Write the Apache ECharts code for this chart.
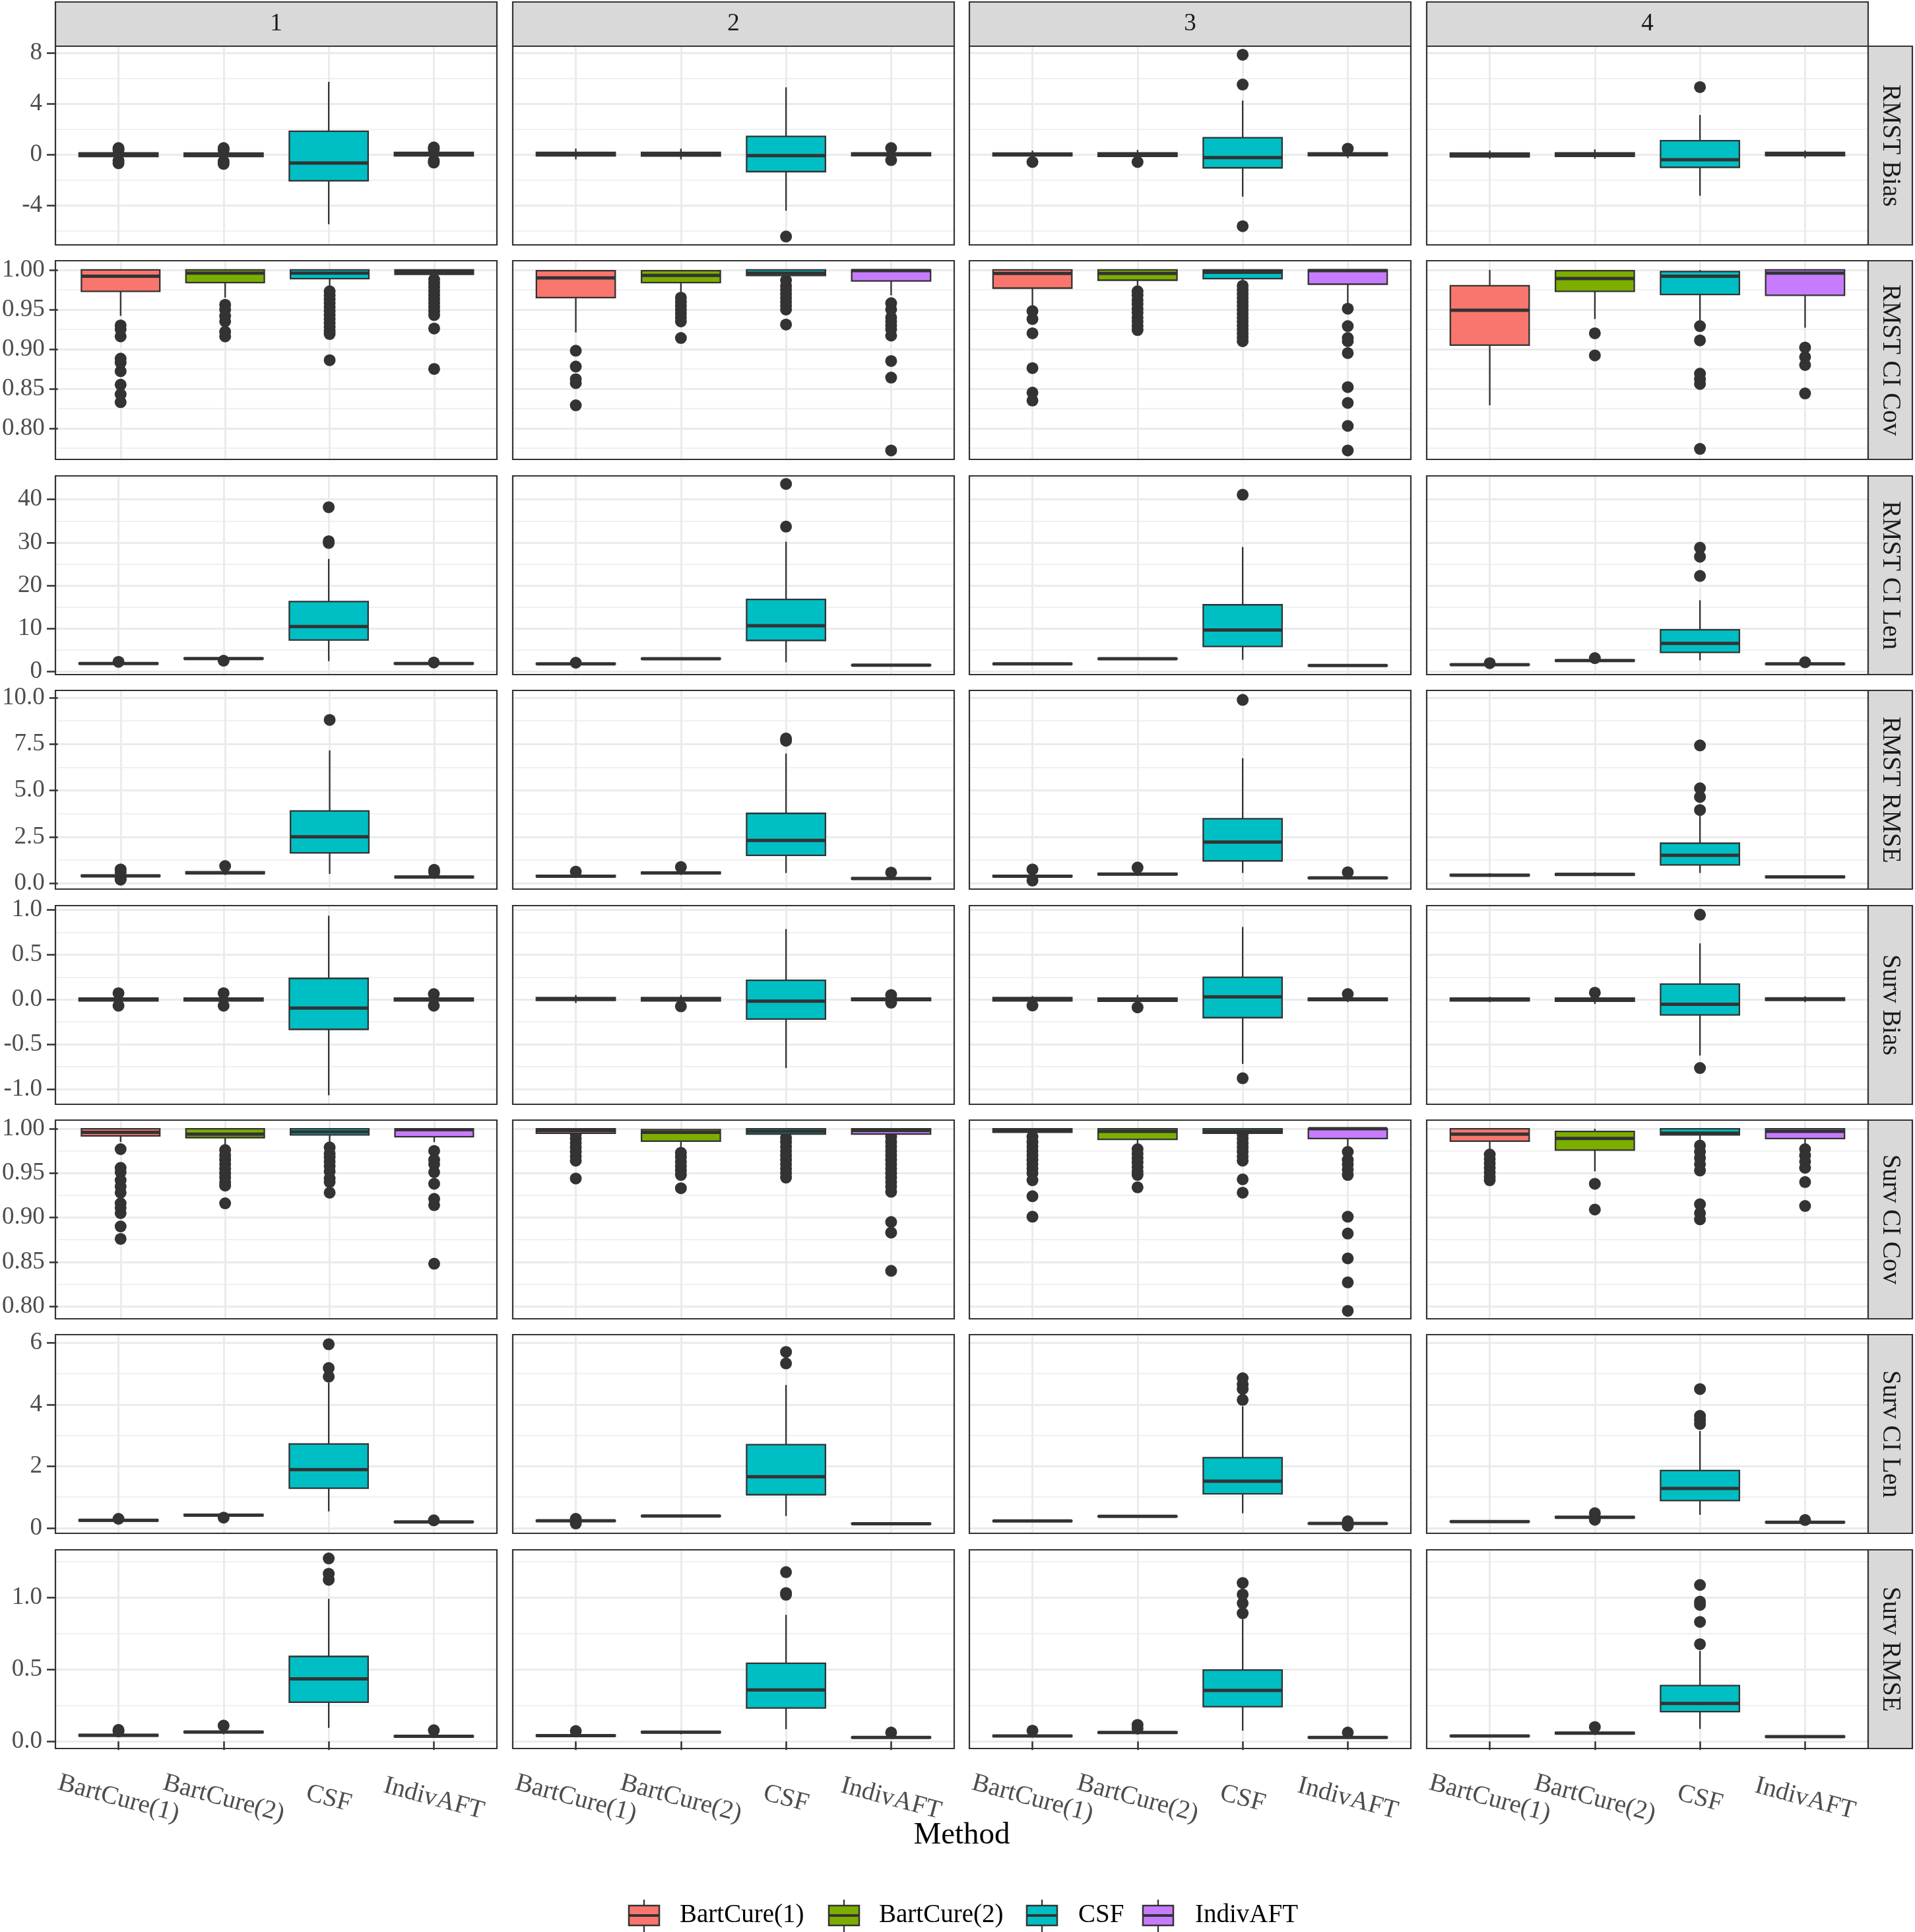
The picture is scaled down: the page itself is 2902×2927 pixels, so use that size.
<!DOCTYPE html>
<html>
<head>
<meta charset="utf-8">
<script src="https://cdn.jsdelivr.net/npm/echarts@6/dist/echarts.min.js"></script>
<style>
  html, body { margin: 0; padding: 0; background: #fff; }
  #chart { width: 2902px; height: 2927px; }
</style>
</head>
<body>
<div id="chart"></div>
<script>
const methods = ["BartCure(1)", "BartCure(2)", "CSF", "IndivAFT"];
const methodColors = ["#F8766D", "#7CAE00", "#00BFC4", "#C77CFF"];
const columns = ["1", "2", "3", "4"];
const metrics = ["RMST Bias", "RMST CI Cov", "RMST CI Len", "RMST RMSE",
                 "Surv Bias", "Surv CI Cov", "Surv CI Len", "Surv RMSE"];

// boxes: [column][method] = [lower whisker, Q1, median, Q3, upper whisker]
// outliers: [column][method] = [values...]
const rmstBiasBoxes = [
  [[-0.35, -0.17, -0.02, 0.12, 0.3], [-0.35, -0.17, -0.03, 0.1, 0.28], [-5.5, -2.08, -0.68, 1.82, 5.71], [-0.3, -0.12, 0.02, 0.15, 0.35]],
  [[-0.4, -0.12, 0.03, 0.15, 0.45], [-0.4, -0.13, 0.02, 0.15, 0.45], [-4.44, -1.36, -0.1, 1.42, 5.28], [-0.25, -0.1, 0.02, 0.12, 0.3]],
  [[-0.35, -0.12, 0.0, 0.1, 0.3], [-0.3, -0.15, 0.0, 0.12, 0.35], [-3.33, -1.06, -0.25, 1.31, 4.24], [-0.3, -0.1, 0.02, 0.12, 0.25]],
  [[-0.35, -0.2, -0.05, 0.1, 0.3], [-0.35, -0.15, 0.0, 0.12, 0.4], [-3.26, -1.02, -0.42, 1.08, 3.1], [-0.3, -0.1, 0.02, 0.15, 0.3]]
];
const rmstBiasOutliers = [
  [[0.5, 0.35, -0.5, -0.7], [0.5, 0.35, -0.55, -0.75], [], [0.55, 0.4, -0.5, -0.65]],
  [[], [], [-6.47], [0.5, -0.45]],
  [[-0.6], [-0.6], [7.85, 5.5, -5.66], [0.45]],
  [[], [], [5.3], []]
];

const rmstCovBoxes = [
  [[0.942, 0.973, 0.992, 1.0, 1.0], [0.965, 0.984, 0.996, 1.0, 1.0], [0.978, 0.989, 0.996, 1.0, 1.0], [0.99, 0.9945, 0.997, 1.0, 1.0]],
  [[0.921, 0.965, 0.99, 0.999, 1.0], [0.968, 0.984, 0.993, 0.999, 1.0], [0.99, 0.993, 0.996, 1.0, 1.0], [0.968, 0.986, 0.999, 1.0, 1.0]],
  [[0.955, 0.977, 0.9956, 1.0, 1.0], [0.977, 0.987, 0.9956, 1.0, 1.0], [0.984, 0.989, 0.997, 1.0, 1.0], [0.958, 0.982, 0.999, 1.0, 1.0]],
  [[0.829, 0.905, 0.949, 0.98, 1.0], [0.938, 0.973, 0.989, 0.999, 1.0], [0.936, 0.969, 0.992, 0.998, 1.0], [0.927, 0.968, 0.996, 1.0, 1.0]]
];
const rmstCovOutliers = [
  [[0.93, 0.925, 0.916, 0.888, 0.883, 0.872, 0.855, 0.843, 0.833],
   [0.956, 0.95, 0.942, 0.935, 0.922, 0.916],
   [0.973, 0.968, 0.963, 0.958, 0.953, 0.948, 0.943, 0.938, 0.933, 0.928, 0.923, 0.919, 0.886],
   [0.988, 0.983, 0.978, 0.973, 0.968, 0.963, 0.958, 0.953, 0.948, 0.943, 0.926, 0.875]],
  [[0.898, 0.878, 0.862, 0.857, 0.829],
   [0.965, 0.96, 0.955, 0.95, 0.945, 0.94, 0.935, 0.914],
   [0.987, 0.98, 0.975, 0.97, 0.965, 0.96, 0.955, 0.95, 0.931],
   [0.958, 0.95, 0.94, 0.935, 0.93, 0.925, 0.917, 0.885, 0.864, 0.772]],
  [[0.948, 0.938, 0.92, 0.876, 0.845, 0.835],
   [0.973, 0.968, 0.962, 0.957, 0.951, 0.946, 0.94, 0.935, 0.929, 0.924],
   [0.98, 0.975, 0.97, 0.965, 0.96, 0.955, 0.95, 0.945, 0.94, 0.935, 0.93, 0.925, 0.92, 0.915, 0.91],
   [0.951, 0.929, 0.914, 0.91, 0.895, 0.852, 0.832, 0.803, 0.772]],
  [[], [0.92, 0.892], [0.929, 0.911, 0.869, 0.862, 0.856, 0.774], [0.902, 0.89, 0.88, 0.844]]
];

const rmstLenBoxes = [
  [[1.6, 1.8, 1.9, 2.0, 2.1], [2.8, 3.0, 3.07, 3.15, 3.3], [2.45, 7.36, 10.48, 16.3, 26.2], [1.6, 1.8, 1.9, 2.0, 2.05]],
  [[1.6, 1.75, 1.83, 1.92, 2.0], [2.85, 2.95, 3.03, 3.1, 3.2], [2.2, 7.27, 10.7, 16.8, 30.2], [1.4, 1.47, 1.52, 1.57, 1.65]],
  [[1.65, 1.75, 1.83, 1.9, 2.0], [2.85, 2.95, 3.0, 3.08, 3.2], [2.78, 5.88, 9.67, 15.55, 28.95], [1.3, 1.4, 1.45, 1.5, 1.6]],
  [[1.45, 1.57, 1.64, 1.72, 1.85], [2.3, 2.5, 2.6, 2.7, 2.9], [2.65, 4.49, 6.57, 9.73, 16.6], [1.6, 1.75, 1.83, 1.9, 2.0]]
];
const rmstLenOutliers = [
  [[2.3], [2.56], [38.2, 30.3, 29.9], [2.15]],
  [[2.1], [], [43.6, 33.7], []],
  [[], [], [41.1], []],
  [[2.0], [3.16], [28.8, 26.7, 22.25], [2.2]]
];

const rmstRmseBoxes = [
  [[0.3, 0.37, 0.4, 0.44, 0.55], [0.45, 0.52, 0.57, 0.62, 0.7], [0.51, 1.64, 2.51, 3.9, 7.16], [0.25, 0.3, 0.34, 0.38, 0.45]],
  [[0.3, 0.35, 0.38, 0.42, 0.5], [0.45, 0.52, 0.56, 0.6, 0.7], [0.56, 1.51, 2.31, 3.77, 6.99], [0.2, 0.23, 0.26, 0.3, 0.35]],
  [[0.3, 0.35, 0.38, 0.42, 0.5], [0.4, 0.46, 0.5, 0.54, 0.6], [0.56, 1.21, 2.22, 3.48, 6.74], [0.22, 0.26, 0.29, 0.32, 0.38]],
  [[0.35, 0.41, 0.44, 0.48, 0.55], [0.38, 0.44, 0.48, 0.52, 0.6], [0.56, 0.99, 1.51, 2.16, 3.63], [0.28, 0.32, 0.35, 0.38, 0.42]]
];
const rmstRmseOutliers = [
  [[0.75, 0.6, 0.25, 0.2], [0.93], [8.8], [0.73, 0.6]],
  [[0.63], [0.88], [7.68, 7.8], [0.58]],
  [[0.75, 0.15], [0.85], [9.88], [0.6]],
  [[], [], [7.43, 5.12, 4.65, 3.95], []]
];

const survBiasBoxes = [
  [[-0.04, -0.015, 0.0, 0.015, 0.04], [-0.04, -0.015, 0.0, 0.015, 0.04], [-1.07, -0.334, -0.096, 0.236, 0.936], [-0.04, -0.015, 0.0, 0.015, 0.04]],
  [[-0.04, -0.01, 0.006, 0.02, 0.05], [-0.05, -0.015, 0.005, 0.02, 0.05], [-0.766, -0.218, -0.018, 0.215, 0.787], [-0.03, -0.012, 0.004, 0.015, 0.04]],
  [[-0.04, -0.015, 0.003, 0.02, 0.04], [-0.05, -0.02, 0.0, 0.015, 0.05], [-0.72, -0.203, 0.03, 0.248, 0.81], [-0.03, -0.012, 0.003, 0.015, 0.03]],
  [[-0.03, -0.015, 0.0, 0.015, 0.03], [-0.05, -0.02, -0.005, 0.015, 0.04], [-0.626, -0.172, -0.054, 0.172, 0.627], [-0.03, -0.01, 0.005, 0.018, 0.035]]
];
const survBiasOutliers = [
  [[0.07, -0.07], [0.07, -0.07], [], [0.06, -0.07]],
  [[], [-0.076], [], [0.05, -0.036]],
  [[-0.067], [-0.088], [-0.88], [0.06]],
  [[], [0.076], [0.947, -0.766], []]
];

const survCovBoxes = [
  [[0.985, 0.992, 0.996, 1.0, 1.0], [0.98, 0.99, 0.994, 1.0, 1.0], [0.985, 0.993, 0.9965, 1.0, 1.0], [0.985, 0.991, 0.999, 1.0, 1.0]],
  [[0.995, 0.995, 0.998, 1.0, 1.0], [0.975, 0.986, 0.996, 0.999, 1.0], [0.994, 0.994, 0.997, 1.0, 1.0], [0.994, 0.994, 0.998, 1.0, 1.0]],
  [[0.996, 0.996, 0.998, 1.0, 1.0], [0.98, 0.988, 0.997, 1.0, 1.0], [0.995, 0.995, 0.997, 1.0, 1.0], [0.98, 0.989, 1.0, 1.0, 1.0]],
  [[0.974, 0.986, 0.994, 1.0, 1.0], [0.952, 0.976, 0.989, 0.997, 1.0], [0.985, 0.993, 0.995, 1.0, 1.0], [0.979, 0.989, 0.997, 1.0, 1.0]]
];
const survCovOutliers = [
  [[0.977, 0.956, 0.951, 0.942, 0.935, 0.928, 0.916, 0.911, 0.905, 0.89, 0.876],
   [0.976, 0.97, 0.965, 0.96, 0.955, 0.95, 0.945, 0.94, 0.936, 0.916],
   [0.979, 0.972, 0.968, 0.963, 0.958, 0.952, 0.944, 0.94, 0.928],
   [0.975, 0.965, 0.96, 0.951, 0.938, 0.921, 0.914, 0.848]],
  [[0.994, 0.989, 0.984, 0.979, 0.974, 0.969, 0.964, 0.944],
   [0.973, 0.968, 0.963, 0.958, 0.953, 0.948, 0.933],
   [0.99, 0.985, 0.98, 0.975, 0.97, 0.965, 0.96, 0.955, 0.95, 0.945],
   [0.991, 0.985, 0.98, 0.975, 0.97, 0.965, 0.96, 0.955, 0.95, 0.945, 0.94, 0.935, 0.929, 0.895, 0.883, 0.84]],
  [[0.991, 0.985, 0.98, 0.975, 0.97, 0.965, 0.96, 0.955, 0.95, 0.942, 0.924, 0.901],
   [0.977, 0.972, 0.967, 0.962, 0.957, 0.952, 0.948, 0.934],
   [0.994, 0.989, 0.984, 0.979, 0.974, 0.969, 0.964, 0.943, 0.928],
   [0.974, 0.965, 0.96, 0.954, 0.948, 0.901, 0.882, 0.854, 0.827, 0.795]],
  [[0.971, 0.966, 0.961, 0.956, 0.951, 0.946, 0.942],
   [0.938, 0.909],
   [0.981, 0.974, 0.967, 0.96, 0.953, 0.915, 0.905, 0.898],
   [0.977, 0.97, 0.963, 0.956, 0.94, 0.913]]
];

const survLenBoxes = [
  [[0.2, 0.23, 0.25, 0.27, 0.29], [0.38, 0.4, 0.42, 0.44, 0.46], [0.54, 1.29, 1.89, 2.72, 4.7], [0.17, 0.19, 0.2, 0.21, 0.23]],
  [[0.2, 0.22, 0.235, 0.25, 0.27], [0.36, 0.38, 0.39, 0.4, 0.42], [0.39, 1.08, 1.66, 2.7, 4.63], [0.12, 0.13, 0.14, 0.15, 0.16]],
  [[0.2, 0.22, 0.23, 0.24, 0.26], [0.35, 0.37, 0.38, 0.39, 0.41], [0.48, 1.11, 1.52, 2.28, 3.94], [0.13, 0.14, 0.15, 0.16, 0.17]],
  [[0.19, 0.2, 0.21, 0.22, 0.23], [0.3, 0.33, 0.35, 0.37, 0.4], [0.43, 0.89, 1.28, 1.86, 3.14], [0.17, 0.18, 0.19, 0.2, 0.22]]
];
const survLenOutliers = [
  [[0.3], [0.34], [5.95, 5.18, 4.9], [0.25]],
  [[0.3, 0.15], [], [5.7, 5.33], []],
  [[], [], [4.85, 4.65, 4.5, 4.15], [0.22, 0.08]],
  [[], [0.48, 0.27], [4.5, 3.63, 3.5, 3.37], [0.26]]
];

const survRmseBoxes = [
  [[0.03, 0.038, 0.043, 0.048, 0.055], [0.05, 0.06, 0.065, 0.07, 0.08], [0.094, 0.272, 0.434, 0.59, 0.99], [0.025, 0.032, 0.036, 0.04, 0.05]],
  [[0.03, 0.036, 0.04, 0.044, 0.05], [0.05, 0.06, 0.064, 0.068, 0.075], [0.085, 0.232, 0.358, 0.543, 0.879], [0.02, 0.025, 0.028, 0.031, 0.035]],
  [[0.028, 0.034, 0.038, 0.042, 0.05], [0.05, 0.058, 0.062, 0.066, 0.075], [0.075, 0.241, 0.354, 0.496, 0.848], [0.02, 0.025, 0.028, 0.031, 0.036]],
  [[0.03, 0.035, 0.038, 0.041, 0.045], [0.045, 0.053, 0.058, 0.063, 0.07], [0.087, 0.207, 0.264, 0.388, 0.628], [0.025, 0.03, 0.034, 0.037, 0.04]]
];
const survRmseOutliers = [
  [[0.08, 0.07], [0.11], [1.27, 1.164, 1.122], [0.078]],
  [[0.072], [], [1.175, 1.03, 1.018], [0.062]],
  [[0.075], [0.115, 0.09], [1.1, 1.02, 0.96, 0.89], [0.062]],
  [[], [0.1], [1.086, 0.97, 0.948, 0.83, 0.675], []]
];

// y tick labels per row
const rmstBiasTicks = ["-4", "0", "4", "8"];
const rmstCovTicks = ["0.80", "0.85", "0.90", "0.95", "1.00"];
const rmstLenTicks = ["0", "10", "20", "30", "40"];
const rmstRmseTicks = ["0.0", "2.5", "5.0", "7.5", "10.0"];
const survBiasTicks = ["-1.0", "-0.5", "0.0", "0.5", "1.0"];
const survCovTicks = ["0.80", "0.85", "0.90", "0.95", "1.00"];
const survLenTicks = ["0", "2", "4", "6"];
const survRmseTicks = ["0.0", "0.5", "1.0"];

// y axis limits per row (ggplot default expansion)
const yLimits = [[-7.13, 8.52], [0.7607, 1.0116], [-0.66, 45.47], [-0.31, 10.39],
                 [-1.171, 1.049], [0.786, 1.0097], [-0.17, 6.26], [-0.049, 1.33]];

const rows = [
  { boxes: rmstBiasBoxes, outliers: rmstBiasOutliers, ticks: rmstBiasTicks },
  { boxes: rmstCovBoxes, outliers: rmstCovOutliers, ticks: rmstCovTicks },
  { boxes: rmstLenBoxes, outliers: rmstLenOutliers, ticks: rmstLenTicks },
  { boxes: rmstRmseBoxes, outliers: rmstRmseOutliers, ticks: rmstRmseTicks },
  { boxes: survBiasBoxes, outliers: survBiasOutliers, ticks: survBiasTicks },
  { boxes: survCovBoxes, outliers: survCovOutliers, ticks: survCovTicks },
  { boxes: survLenBoxes, outliers: survLenOutliers, ticks: survLenTicks },
  { boxes: survRmseBoxes, outliers: survRmseOutliers, ticks: survRmseTicks }
];

const FONT = "Liberation Serif";
const DARK = "#333333";
const GRID_COLOR = "#EBEBEB";
const colLeft = [84, 777, 1469, 2162];
const panelW = 669, panelH = 301, rowTop0 = 70, rowStep = 325.4;
const stripTop = 3, stripSize = 67, stripRight = 2831;

const chart = echarts.init(document.getElementById("chart"));

const grids = [], xAxes = [], yAxes = [], series = [], graphics = [];

function renderBox(params, api) {
  const x = api.value(0);
  const color = methodColors[api.value(6)];
  const half = api.size([0.75, 0])[0] / 2;
  const pLow = api.coord([x, api.value(1)]);
  const pQ1 = api.coord([x, api.value(2)]);
  const pMed = api.coord([x, api.value(3)]);
  const pQ3 = api.coord([x, api.value(4)]);
  const pHigh = api.coord([x, api.value(5)]);
  const lineStyle = { stroke: DARK, lineWidth: 2.3 };
  return {
    type: "group",
    children: [
      { type: "line", shape: { x1: pHigh[0], y1: pHigh[1], x2: pQ3[0], y2: pQ3[1] }, style: lineStyle },
      { type: "line", shape: { x1: pLow[0], y1: pLow[1], x2: pQ1[0], y2: pQ1[1] }, style: lineStyle },
      { type: "rect", shape: { x: pQ3[0] - half, y: pQ3[1], width: 2 * half, height: Math.max(pQ1[1] - pQ3[1], 0.5) },
        style: { fill: color, stroke: DARK, lineWidth: 2.3 } },
      { type: "line", shape: { x1: pMed[0] - half, y1: pMed[1], x2: pMed[0] + half, y2: pMed[1] },
        style: { stroke: DARK, lineWidth: 5 } }
    ]
  };
}

rows.forEach((row, r) => {
  const majors = row.ticks.map(Number);
  const step = majors[1] - majors[0];
  const lim = yLimits[r];
  const minors = [];
  for (let v = majors[0] - step / 2; v <= lim[1]; v += step) {
    if (v >= lim[0]) minors.push(+v.toFixed(6));
  }
  const top = Math.round(rowTop0 + r * rowStep);
  const bottomRow = r === rows.length - 1;

  columns.forEach((col, c) => {
    const g = grids.length;
    grids.push({ left: colLeft[c], top: top, width: panelW, height: panelH, show: false, containLabel: false });

    xAxes.push({
      type: "value", gridIndex: g, min: 0.4, max: 4.6,
      axisLine: { show: false },
      axisTick: { show: bottomRow, customValues: [1, 2, 3, 4], length: 13, lineStyle: { color: DARK, width: 2.5 } },
      axisLabel: {
        show: bottomRow, customValues: [1, 2, 3, 4],
        formatter: v => methods[Math.round(v) - 1],
        rotate: -15, align: "center", verticalAlign: "middle", margin: 76,
        fontFamily: FONT, fontSize: 39, color: "#4D4D4D"
      },
      splitLine: { show: true, lineStyle: { color: GRID_COLOR, width: 3 } }
    });

    yAxes.push({
      type: "value", gridIndex: g, min: lim[0], max: lim[1], position: "left",
      axisLine: { show: false },
      axisTick: { show: c === 0, customValues: majors, length: 13, lineStyle: { color: DARK, width: 2.5 } },
      axisLabel: {
        show: c === 0, customValues: majors, margin: 20,
        formatter: v => {
          const i = majors.findIndex(m => Math.abs(m - v) < 1e-9);
          return i >= 0 ? row.ticks[i] : String(v);
        },
        fontFamily: FONT, fontSize: 37, color: "#4D4D4D"
      },
      splitLine: { show: true, lineStyle: { color: GRID_COLOR, width: 3 } }
    });
    yAxes.push({
      type: "value", gridIndex: g, min: lim[0], max: lim[1], position: "left",
      axisLine: { show: false },
      axisTick: { show: false, customValues: minors },
      axisLabel: { show: false, customValues: minors },
      splitLine: { show: true, lineStyle: { color: GRID_COLOR, width: 1.6 } }
    });

    series.push({
      type: "scatter", xAxisIndex: g, yAxisIndex: 2 * g, z: 2,
      symbol: "circle", symbolSize: 18,
      itemStyle: { color: DARK, opacity: 1 },
      data: row.outliers[c].flatMap((vals, m) => vals.map(v => [m + 1, v]))
    });
    series.push({
      type: "custom", xAxisIndex: g, yAxisIndex: 2 * g, z: 3,
      renderItem: renderBox,
      encode: { x: 0, y: [1, 2, 3, 4, 5] },
      data: row.boxes[c].map((b, m) => [m + 1, ...b, m])
    });

    // panel border
    graphics.push({
      type: "rect", z: 100,
      shape: { x: colLeft[c], y: top, width: panelW, height: panelH },
      style: { fill: null, stroke: DARK, lineWidth: 2.2 }
    });
  });

  // right strip
  graphics.push({
    type: "rect", z: 100,
    shape: { x: stripRight, y: top, width: stripSize, height: panelH },
    style: { fill: "#D9D9D9", stroke: DARK, lineWidth: 2.2 }
  });
  graphics.push({
    type: "text", z: 101,
    x: stripRight + stripSize / 2, y: top + panelH / 2, rotation: -Math.PI / 2,
    style: { text: metrics[r], fill: "#1A1A1A", font: "39px " + FONT, align: "center", verticalAlign: "middle" }
  });
});

// top strips
columns.forEach((col, c) => {
  graphics.push({
    type: "rect", z: 100,
    shape: { x: colLeft[c], y: stripTop, width: panelW, height: rowTop0 - stripTop },
    style: { fill: "#D9D9D9", stroke: DARK, lineWidth: 2.2 }
  });
  graphics.push({
    type: "text", z: 101,
    x: colLeft[c] + panelW / 2, y: (stripTop + rowTop0) / 2,
    style: { text: col, fill: "#1A1A1A", font: "37px " + FONT, align: "center", verticalAlign: "middle" }
  });
});

// axis title
graphics.push({
  type: "text", x: (colLeft[0] + colLeft[3] + panelW) / 2, y: 2781,
  style: { text: "Method", fill: "#000", font: "47px " + FONT, align: "center", verticalAlign: "middle" }
});

// legend
const legendKeyX = [976, 1279, 1579, 1755];
const legendTextX = [1030, 1332, 1634, 1811];
const legendY = 2902;
methods.forEach((name, m) => {
  const cx = legendKeyX[m];
  graphics.push({ type: "line", z: 100, shape: { x1: cx, y1: legendY - 24, x2: cx, y2: legendY + 25 },
    style: { stroke: DARK, lineWidth: 2.3 } });
  graphics.push({ type: "rect", z: 101, shape: { x: cx - 23, y: legendY - 15, width: 46, height: 30 },
    style: { fill: methodColors[m], stroke: DARK, lineWidth: 2.5 } });
  graphics.push({ type: "line", z: 102, shape: { x1: cx - 23, y1: legendY, x2: cx + 23, y2: legendY },
    style: { stroke: DARK, lineWidth: 4 } });
  graphics.push({ type: "text", z: 101, x: legendTextX[m], y: legendY,
    style: { text: name, fill: "#000", font: "39px " + FONT, align: "left", verticalAlign: "middle" } });
});

chart.setOption({
  animation: false,
  backgroundColor: "#ffffff",
  grid: grids,
  xAxis: xAxes,
  yAxis: yAxes,
  series: series,
  graphic: graphics
});
</script>
</body>
</html>
